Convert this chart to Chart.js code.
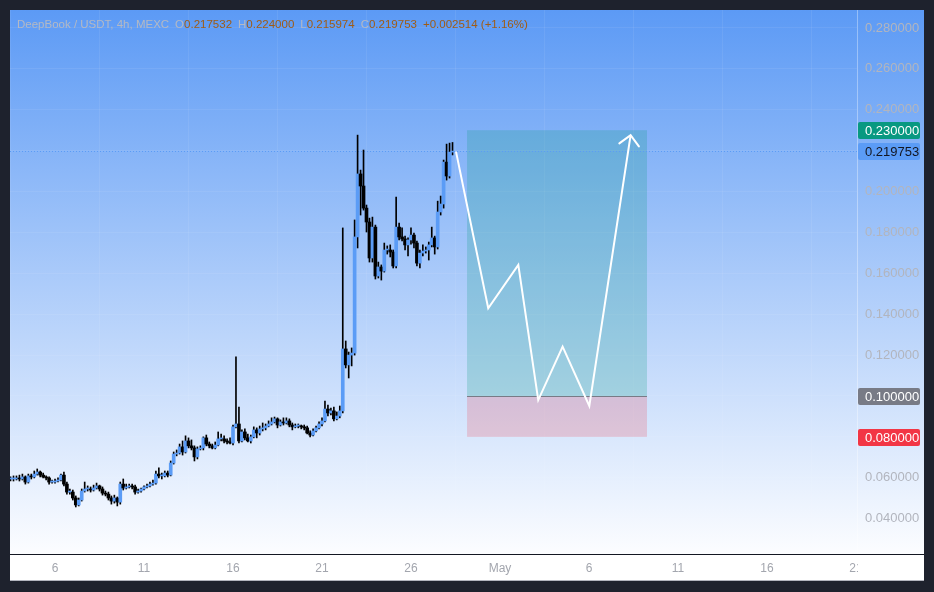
<!DOCTYPE html>
<html>
<head>
<meta charset="utf-8">
<title>DeepBook / USDT 4h</title>
<script src="https://cdn.jsdelivr.net/npm/chart.js@4.4.1/dist/chart.umd.min.js"></script>
<style>
    html, body { margin: 0; padding: 0; background: #1e222d; }
    #wrap { position: absolute; left: 10px; top: 10px; width: 914px; height: 571px; }
</style>
</head>
<body>
<div id="wrap"><canvas id="chart"></canvas></div>
<script>
// Candles: 4h bars, first one opens Apr 3 12:00 (day numbers, Apr 1 00:00 = 1)
const candleStart = 3.5;
const candleHours = 4;
const firstOpen = 0.0594;

const closes = [
    0.0594, 0.0594, 0.0599, 0.0594, 0.0604, 0.0579, 0.0609, 0.0604, 0.0618, 0.0628,
    0.0613, 0.0604, 0.0599, 0.0579, 0.0579, 0.0584, 0.0589, 0.0613, 0.0569, 0.0530,
    0.0530, 0.0501, 0.0467, 0.0491, 0.0535, 0.0545, 0.0545, 0.0540, 0.0550, 0.0560,
    0.0545, 0.0525, 0.0520, 0.0501, 0.0486, 0.0501, 0.0481, 0.0569, 0.0550, 0.0555,
    0.0560, 0.0555, 0.0530, 0.0535, 0.0545, 0.0555, 0.0560, 0.0569, 0.0574, 0.0618,
    0.0609, 0.0609, 0.0623, 0.0613, 0.0672, 0.0716, 0.0721, 0.0751, 0.0726, 0.0780,
    0.0756, 0.0746, 0.0702, 0.0741, 0.0746, 0.0795, 0.0765, 0.0756, 0.0746, 0.0760,
    0.0790, 0.0790, 0.0780, 0.0775, 0.0770, 0.0849, 0.0863, 0.0780, 0.0824, 0.0795,
    0.0780, 0.0800, 0.0834, 0.0819, 0.0839, 0.0844, 0.0853, 0.0863, 0.0873, 0.0888,
    0.0858, 0.0873, 0.0868, 0.0878, 0.0858, 0.0849, 0.0853, 0.0853, 0.0849, 0.0844,
    0.0819, 0.0809, 0.0829, 0.0844, 0.0863, 0.0878, 0.0936, 0.0917, 0.0927, 0.0888,
    0.0902, 0.0927, 0.1230, 0.1152, 0.1200, 0.1210, 0.1778, 0.2086, 0.2027, 0.1919,
    0.1851, 0.1675, 0.1826, 0.1587, 0.1631, 0.1611, 0.1714, 0.1714, 0.1704, 0.1636,
    0.1826, 0.1778, 0.1768, 0.1739, 0.1763, 0.1787, 0.1748, 0.1650, 0.1699, 0.1709,
    0.1714, 0.1739, 0.1773, 0.1729, 0.1900, 0.1939, 0.2144, 0.2076, 0.2193, 0.219753
];

const highs = [
    0.0604, 0.0609, 0.0609, 0.0613, 0.0618, 0.0609, 0.0618, 0.0618, 0.0633, 0.0643,
    0.0633, 0.0623, 0.0609, 0.0604, 0.0589, 0.0594, 0.0599, 0.0618, 0.0628, 0.0579,
    0.0545, 0.0540, 0.0511, 0.0501, 0.0545, 0.0579, 0.0560, 0.0555, 0.0564, 0.0574,
    0.0564, 0.0555, 0.0535, 0.0530, 0.0511, 0.0515, 0.0506, 0.0579, 0.0594, 0.0569,
    0.0569, 0.0569, 0.0564, 0.0545, 0.0550, 0.0560, 0.0569, 0.0579, 0.0589, 0.0633,
    0.0648, 0.0623, 0.0633, 0.0633, 0.0682, 0.0726, 0.0736, 0.0765, 0.0780, 0.0805,
    0.0795, 0.0785, 0.0756, 0.0751, 0.0756, 0.0800, 0.0809, 0.0775, 0.0765, 0.0775,
    0.0824, 0.0814, 0.0805, 0.0790, 0.0795, 0.0858, 0.1191, 0.0946, 0.0834, 0.0839,
    0.0814, 0.0809, 0.0849, 0.0844, 0.0853, 0.0868, 0.0863, 0.0878, 0.0893, 0.0897,
    0.0893, 0.0883, 0.0893, 0.0893, 0.0888, 0.0868, 0.0863, 0.0863, 0.0858, 0.0858,
    0.0853, 0.0829, 0.0839, 0.0853, 0.0873, 0.0893, 0.0975, 0.0956, 0.0941, 0.0946,
    0.0922, 0.0951, 0.1822, 0.1269, 0.1215, 0.1235, 0.1861, 0.2276, 0.2105, 0.2203,
    0.1934, 0.1870, 0.1875, 0.1836, 0.1655, 0.1641, 0.1748, 0.1734, 0.1739, 0.1714,
    0.1973, 0.1846, 0.1822, 0.1782, 0.1773, 0.1822, 0.1797, 0.1758, 0.1714, 0.1739,
    0.1729, 0.1753, 0.1826, 0.1782, 0.1953, 0.1978, 0.2154, 0.2232, 0.2237, 0.2240
];

const lows = [
    0.0584, 0.0584, 0.0589, 0.0584, 0.0589, 0.0569, 0.0574, 0.0594, 0.0599, 0.0613,
    0.0604, 0.0599, 0.0589, 0.0569, 0.0574, 0.0574, 0.0579, 0.0584, 0.0560, 0.0520,
    0.0520, 0.0491, 0.0457, 0.0462, 0.0486, 0.0530, 0.0535, 0.0530, 0.0535, 0.0545,
    0.0535, 0.0515, 0.0511, 0.0491, 0.0471, 0.0476, 0.0462, 0.0471, 0.0540, 0.0545,
    0.0550, 0.0545, 0.0520, 0.0525, 0.0530, 0.0540, 0.0550, 0.0555, 0.0564, 0.0569,
    0.0599, 0.0594, 0.0604, 0.0604, 0.0609, 0.0667, 0.0707, 0.0716, 0.0711, 0.0721,
    0.0746, 0.0736, 0.0682, 0.0692, 0.0736, 0.0736, 0.0756, 0.0746, 0.0741, 0.0741,
    0.0756, 0.0780, 0.0770, 0.0765, 0.0765, 0.0760, 0.0844, 0.0770, 0.0775, 0.0785,
    0.0775, 0.0770, 0.0795, 0.0795, 0.0809, 0.0829, 0.0834, 0.0849, 0.0858, 0.0868,
    0.0844, 0.0853, 0.0858, 0.0863, 0.0849, 0.0834, 0.0844, 0.0844, 0.0839, 0.0834,
    0.0814, 0.0800, 0.0805, 0.0824, 0.0839, 0.0853, 0.0873, 0.0902, 0.0907, 0.0878,
    0.0883, 0.0893, 0.0917, 0.1137, 0.1088, 0.1147, 0.1200, 0.1724, 0.1885, 0.1909,
    0.1802, 0.1655, 0.1655, 0.1572, 0.1577, 0.1567, 0.1606, 0.1694, 0.1680, 0.1626,
    0.1626, 0.1763, 0.1758, 0.1714, 0.1685, 0.1743, 0.1724, 0.1636, 0.1626, 0.1685,
    0.1699, 0.1665, 0.1729, 0.1694, 0.1719, 0.1885, 0.1919, 0.2056, 0.2066, 0.2179
];

// Axis ticks
const dayTicks = [6, 11, 16, 21, 26, 31, 36, 41, 46, 51];
const dayTickLabels = ['6', '11', '16', '21', '26', 'May', '6', '11', '16', '21'];
const priceTicks = [0.04, 0.06, 0.08, 0.10, 0.12, 0.14, 0.16, 0.18, 0.20, 0.22, 0.24, 0.26, 0.28];

// Long position tool
const posStartDay = 29.15;
const posEndDay = 39.26;
const posEntry = 0.10;
const posTarget = 0.23;
const posStop = 0.08;

// Projected path (white arrow)
const pathDays = [28.53, 30.34, 32.03, 33.15, 34.52, 36.02, 38.34];
const pathPrices = [0.2195, 0.1429, 0.1641, 0.0980, 0.1241, 0.0951, 0.2276];

// Legend values
const legendTitle = 'DeepBook / USDT, 4h, MEXC';
const legendOHLC = [['O', '0.217532'], ['H', '0.224000'], ['L', '0.215974'], ['C', '0.219753']];
const legendChange = '+0.002514 (+1.16%)';

const UP = '#5b9cf6';
const DOWN = '#000000';
const FONT = "'Liberation Sans', Arial, sans-serif";

const times = closes.map((_, i) => candleStart + i * candleHours / 24);
const opens = closes.map((c, i) => i === 0 ? firstOpen : closes[i - 1]);
const lastClose = closes[closes.length - 1];

const backgroundPlugin = {
    id: 'tvBackground',
    beforeDraw(chart) {
        const { ctx, chartArea, width, height } = chart;
        ctx.save();
        const g = ctx.createLinearGradient(0, 0, 0, chartArea.bottom);
        g.addColorStop(0, 'rgb(92,154,245)');
        g.addColorStop(1, 'rgb(252,253,255)');
        ctx.fillStyle = g;
        ctx.fillRect(0, 0, width, chartArea.bottom);
        ctx.fillStyle = '#ffffff';
        ctx.fillRect(0, chartArea.bottom, width, height - chartArea.bottom);
        ctx.restore();
    }
};

const positionPlugin = {
    id: 'longPosition',
    beforeDatasetsDraw(chart) {
        const { ctx, scales: { x, y }, chartArea } = chart;
        const x0 = x.getPixelForValue(posStartDay);
        const x1 = x.getPixelForValue(posEndDay);
        const yT = y.getPixelForValue(posTarget);
        const yE = y.getPixelForValue(posEntry);
        const yS = y.getPixelForValue(posStop);
        ctx.save();
        ctx.fillStyle = 'rgba(8,153,129,0.22)';
        ctx.fillRect(x0, yT, x1 - x0, yE - yT);
        ctx.fillStyle = 'rgba(242,54,69,0.2)';
        ctx.fillRect(x0, yE, x1 - x0, yS - yE);
        ctx.strokeStyle = '#787b86';
        ctx.lineWidth = 1;
        ctx.beginPath();
        ctx.moveTo(x0, Math.round(yE) + 0.5);
        ctx.lineTo(x1, Math.round(yE) + 0.5);
        ctx.stroke();

        // last price dotted line
        const yp = Math.round(y.getPixelForValue(lastClose)) + 0.5;
        ctx.strokeStyle = UP;
        ctx.setLineDash([1, 2]);
        ctx.beginPath();
        ctx.moveTo(chartArea.left, yp);
        ctx.lineTo(chartArea.right, yp);
        ctx.stroke();
        ctx.restore();
    }
};

function priceTag(ctx, chart, value, bg, fg) {
    const { chartArea, scales: { y } } = chart;
    const yc = Math.round(y.getPixelForValue(value));
    ctx.fillStyle = bg;
    ctx.beginPath();
    ctx.roundRect(chartArea.right + 1, yc - 8, 62, 17, 2);
    ctx.fill();
    ctx.fillStyle = fg;
    ctx.textAlign = 'left';
    ctx.textBaseline = 'middle';
    ctx.fillText(value.toFixed(6), chartArea.right + 8, yc + 1);
}

const overlayPlugin = {
    id: 'tvOverlay',
    afterDraw(chart) {
        const { ctx, chartArea, width, height, scales: { x, y } } = chart;
        ctx.save();

        // price scale corner hides the clipped time label
        ctx.fillStyle = '#ffffff';
        ctx.fillRect(chartArea.right + 1, chartArea.bottom + 1, width - chartArea.right, height - chartArea.bottom - 2);
        ctx.fillStyle = '#b2b5be';
        ctx.fillRect(0, height - 1, width, 1);
        ctx.fillStyle = '#131722';
        ctx.fillRect(0, chartArea.bottom, width, 1);

        // arrow head at the end of the projected path
        const n = pathDays.length;
        const ax = x.getPixelForValue(pathDays[n - 1]);
        const ay = y.getPixelForValue(pathPrices[n - 1]);
        const bx = x.getPixelForValue(pathDays[n - 2]);
        const by = y.getPixelForValue(pathPrices[n - 2]);
        const ang = Math.atan2(by - ay, bx - ax);
        ctx.strokeStyle = '#ffffff';
        ctx.lineWidth = 2;
        ctx.lineCap = 'round';
        ctx.beginPath();
        ctx.moveTo(ax + 14 * Math.cos(ang + Math.PI / 4), ay + 14 * Math.sin(ang + Math.PI / 4));
        ctx.lineTo(ax, ay);
        ctx.lineTo(ax + 14 * Math.cos(ang - Math.PI / 4), ay + 14 * Math.sin(ang - Math.PI / 4));
        ctx.stroke();

        // price scale tags
        ctx.font = '13px ' + FONT;
        priceTag(ctx, chart, posTarget, '#089981', '#ffffff');
        priceTag(ctx, chart, lastClose, UP, '#131722');
        priceTag(ctx, chart, posEntry, '#787b86', '#ffffff');
        priceTag(ctx, chart, posStop, '#f23645', '#ffffff');

        // legend line
        ctx.font = '11.5px ' + FONT;
        ctx.textAlign = 'left';
        ctx.textBaseline = 'middle';
        let tx = 7;
        const ty = 15;
        ctx.fillStyle = '#b4b9c4';
        ctx.fillText(legendTitle, tx, ty);
        tx += ctx.measureText(legendTitle).width + 6;
        legendOHLC.forEach(([k, v]) => {
            ctx.fillStyle = '#b4b9c4';
            ctx.fillText(k, tx, ty);
            tx += ctx.measureText(k).width;
            ctx.fillStyle = '#a05c14';
            ctx.fillText(v, tx, ty);
            tx += ctx.measureText(v).width + 6;
        });
        ctx.fillStyle = '#a05c14';
        ctx.fillText(legendChange, tx, ty);
        ctx.restore();
    }
};

new Chart(document.getElementById('chart'), {
    type: 'bar',
    data: {
        datasets: [
            {
                type: 'line',
                label: 'Projection',
                data: pathDays.map((d, i) => ({ x: d, y: pathPrices[i] })),
                borderColor: '#ffffff',
                borderWidth: 2,
                pointRadius: 0,
                tension: 0,
                fill: false,
                order: 0
            },
            {
                label: 'Body',
                data: times.map((t, i) => ({ x: t, y: [opens[i], closes[i]] })),
                backgroundColor: closes.map((c, i) => c >= opens[i] ? UP : DOWN),
                barThickness: 3,
                minBarLength: 1,
                grouped: false,
                borderWidth: 0,
                order: 1
            },
            {
                label: 'Wick',
                data: times.map((t, i) => ({ x: t, y: [lows[i], highs[i]] })),
                backgroundColor: '#000000',
                barThickness: 1,
                grouped: false,
                borderWidth: 0,
                order: 2
            }
        ]
    },
    options: {
        responsive: true,
        maintainAspectRatio: false,
        animation: false,
        layout: { padding: 0, autoPadding: false },
        plugins: {
            legend: { display: false },
            tooltip: { enabled: false }
        },
        scales: {
            x: {
                type: 'linear',
                position: 'bottom',
                min: 3.47,
                max: 51.06,
                offset: false,
                afterBuildTicks: (s) => { s.ticks = dayTicks.map(v => ({ value: v })); },
                afterFit: (s) => {
                    s.height = 27;
                    s.paddingLeft = 0;
                    s.paddingRight = 0;
                },
                ticks: {
                    autoSkip: false,
                    maxRotation: 0,
                    padding: 7,
                    color: '#a3a6ae',
                    font: { family: FONT, size: 12 },
                    callback: (v) => dayTickLabels[dayTicks.indexOf(v)]
                },
                grid: { color: 'rgba(255,255,255,0.07)', drawTicks: false },
                border: { display: false }
            },
            y: {
                type: 'linear',
                position: 'right',
                min: 0.0227,
                max: 0.2888,
                afterBuildTicks: (s) => { s.ticks = priceTicks.map(v => ({ value: v })); },
                afterFit: (s) => {
                    s.width = 67;
                    s.paddingTop = 0;
                    s.paddingBottom = 0;
                },
                ticks: {
                    padding: 8,
                    color: '#b2b5be',
                    font: { family: FONT, size: 13 },
                    callback: (v) => v.toFixed(6)
                },
                grid: { color: 'rgba(255,255,255,0.07)', drawTicks: false },
                border: { color: 'rgba(255,255,255,0.35)' }
            }
        }
    },
    plugins: [backgroundPlugin, positionPlugin, overlayPlugin]
});
</script>
</body>
</html>
